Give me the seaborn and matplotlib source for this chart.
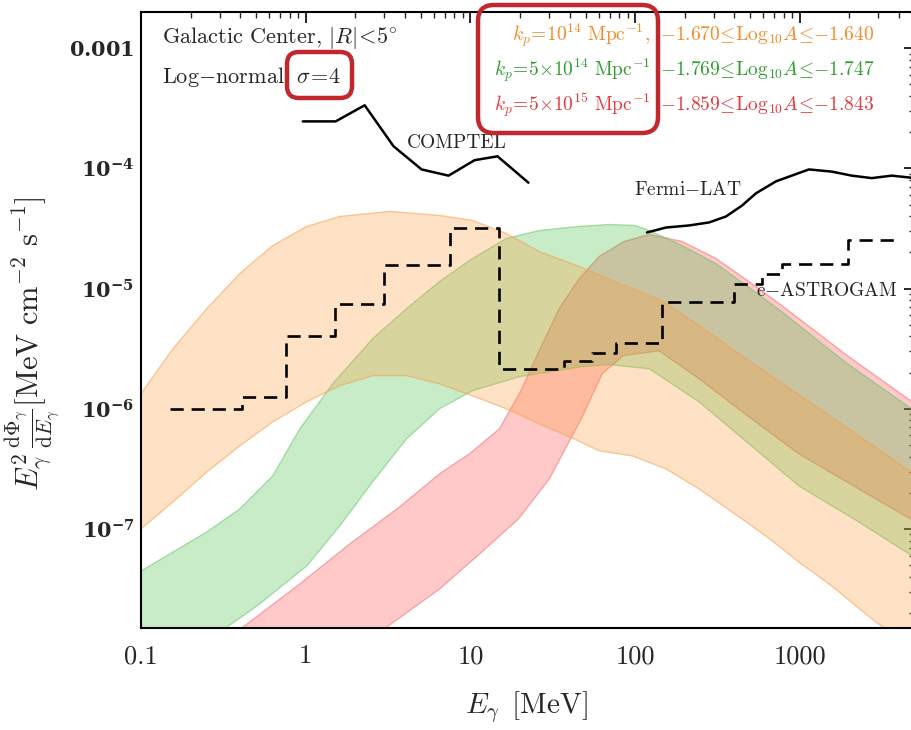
import numpy as np
import matplotlib
matplotlib.use("Agg")
import matplotlib.pyplot as plt
import seaborn as sns
from matplotlib.colors import to_rgba
from matplotlib.patches import FancyBboxPatch
from matplotlib.transforms import IdentityTransform

# ---------------- data (log10 values) ----------------
orange_up_logE = [-1.0, -0.806, -0.6, -0.4, -0.2, 0.006, 0.206, 0.509, 0.812, 1.012, 1.218, 1.418,
                  1.661, 1.903, 2.164, 2.388, 2.691, 2.994, 3.297, 3.70]
orange_up_logF = [-5.875, -5.5, -5.167, -4.875, -4.642, -4.483, -4.4, -4.358, -4.392, -4.433, -4.542, -4.692,
                  -4.817, -4.958, -5.1, -5.308, -5.6, -5.883, -6.167, -6.55]
orange_lo_logE = [-1.0, -0.806, -0.6, -0.4, -0.2, 0.006, 0.206, 0.406, 0.612, 0.812, 1.012, 1.218, 1.418,
                  1.630, 1.782, 1.982, 2.188, 2.388, 2.588, 2.794, 2.994, 3.194, 3.461, 3.70]
orange_lo_logF = [-7.0, -6.775, -6.525, -6.308, -6.108, -5.942, -5.808, -5.725, -5.725, -5.792, -5.892, -6.0, -6.125,
                  -6.25, -6.35, -6.392, -6.5, -6.667, -6.858, -7.058, -7.275, -7.475, -7.775, -8.0]

green_up_logE = [-1.0, -0.806, -0.6, -0.4, -0.2, -0.036, 0.164, 0.406, 0.612, 0.812, 1.012, 1.218, 1.418,
                 1.661, 1.842, 2.0, 2.085, 2.285, 2.491, 2.691, 2.891, 3.073, 3.297, 3.70]
green_up_logF = [-7.35, -7.192, -7.025, -6.833, -6.558, -6.167, -5.792, -5.417, -5.167, -4.942, -4.75, -4.583, -4.517,
                 -4.483, -4.467, -4.475, -4.517, -4.642, -4.792, -4.992, -5.192, -5.392, -5.633, -6.02]
green_lo_logE = [-1.0, -0.479, -0.297, 0.006, 0.206, 0.406, 0.612, 0.812, 1.012, 1.297, 1.673, 1.842,
                 2.085, 2.388, 2.691, 2.994, 3.358, 3.70]
green_lo_logF = [-8.333, -7.817, -7.642, -7.308, -6.975, -6.608, -6.25, -6.0, -5.85, -5.733, -5.65, -5.633,
                 -5.667, -5.942, -6.292, -6.642, -6.942, -7.24]

red_up_logE = [-1.0, -0.382, -0.036, 0.267, 0.570, 0.812, 0.994, 1.176, 1.297, 1.418, 1.539, 1.661, 1.782,
               1.933, 2.085, 2.285, 2.491, 2.691, 2.891, 3.073, 3.297, 3.70]
red_up_logF = [-8.467, -7.817, -7.458, -7.125, -6.817, -6.542, -6.375, -6.167, -5.875, -5.517, -5.167, -4.917, -4.733,
               -4.608, -4.55, -4.608, -4.75, -4.942, -5.142, -5.333, -5.567, -5.96]
red_lo_logE = [-0.036, 0.491, 0.812, 1.055, 1.291, 1.479, 1.673, 1.8, 1.927, 2.145, 2.388, 2.691, 2.994, 3.358, 3.70]
red_lo_logF = [-8.333, -7.817, -7.5, -7.208, -6.917, -6.583, -6.083, -5.708, -5.558, -5.517, -5.75, -6.067,
               -6.375, -6.667, -6.94]

comptel_E = [0.96, 1.52, 2.28, 3.41, 5.05, 7.36, 10.6, 14.6, 22.5]
comptel_F = [2.46e-4, 2.46e-4, 3.35e-4, 1.53e-4, 9.8e-5, 8.7e-5, 1.17e-4, 1.26e-4, 7.6e-5]

fermi_E = [118, 154, 212, 281, 356, 445, 541, 716, 1135, 1563, 2067, 2730, 3610, 5000]
fermi_F = [2.93e-5, 3.22e-5, 3.35e-5, 3.55e-5, 3.98e-5, 4.9e-5, 6.2e-5, 7.8e-5, 9.8e-5, 9.4e-5, 8.7e-5,
           8.3e-5, 8.7e-5, 8.3e-5]

astrogam_edges = [0.15, 0.41, 0.76, 1.5, 3.0, 7.5, 15, 37, 55, 77, 146, 400, 590, 780, 1950, 4100]
astrogam_levels = [1.0e-6, 1.26e-6, 4.0e-6, 7.4e-6, 1.58e-5, 3.2e-5, 2.15e-6, 2.5e-6, 2.93e-6, 3.5e-6,
                   7.8e-6, 1.1e-5, 1.31e-5, 1.61e-5, 2.56e-5]

legend_kp = [r"$k_p\!=\!10^{14}\ \mathrm{Mpc}^{-1},$",
             r"$k_p\!=\!5{\times}10^{14}\ \mathrm{Mpc}^{-1}$",
             r"$k_p\!=\!5{\times}10^{15}\ \mathrm{Mpc}^{-1}$"]
legend_range = [r"${-}1.670\!\leq\!\mathrm{Log}_{10}A\!\leq\!{-}1.640$",
                r"${-}1.769\!\leq\!\mathrm{Log}_{10}A\!\leq\!{-}1.747$",
                r"${-}1.859\!\leq\!\mathrm{Log}_{10}A\!\leq\!{-}1.843$"]
legend_colors = ["#F28C28", "#2E9E2E", "#E23A3F"]

x_ticks = [0.1, 1, 10, 100, 1000]
x_ticklabels = ["0.1", "1", "10", "100", "1000"]
y_ticks = [1e-7, 1e-6, 1e-5, 1e-4, 1e-3]
y_ticklabels = [r"$\mathbf{10^{-7}}$", r"$\mathbf{10^{-6}}$", r"$\mathbf{10^{-5}}$",
                r"$\mathbf{10^{-4}}$", r"$\mathbf{0.001}$"]

# ---------------- style ----------------
sns.set_style("white")
plt.rcParams.update({
    "font.family": ["cmr10", "DejaVu Serif"],
    "mathtext.fontset": "cm",
    "axes.unicode_minus": False,
    "axes.formatter.use_mathtext": True,
})

fig = plt.figure(figsize=(9.12, 7.3), dpi=100)
ax = fig.add_axes([141 / 912, 102 / 730, 774 / 912, 616 / 730])
ax.set_xscale("log")
ax.set_yscale("log")


def band(ue, uf, le, lf, face, edge, alpha, z):
    x = 10 ** np.concatenate([np.array(ue), np.array(le)[::-1]])
    y = 10 ** np.concatenate([np.array(uf), np.array(lf)[::-1]])
    ax.fill(x, y, facecolor=to_rgba(face, alpha), edgecolor=to_rgba(edge, 0.55), lw=1.0, zorder=z)


band(red_up_logE, red_up_logF, red_lo_logE, red_lo_logF, "#FF4D4D", "#F07070", 0.30, 1.0)
band(green_up_logE, green_up_logF, green_lo_logE, green_lo_logF, "#3CB83C", "#6CC86C", 0.28, 1.1)
band(orange_up_logE, orange_up_logF, orange_lo_logE, orange_lo_logF, "#FF9933", "#F5A050", 0.28, 1.2)

sns.lineplot(x=comptel_E, y=comptel_F, ax=ax, color="black", lw=1.8, sort=False, estimator=None, zorder=3)
sns.lineplot(x=fermi_E, y=fermi_F, ax=ax, color="black", lw=1.8, sort=False, estimator=None, zorder=3)
sns.lineplot(x=astrogam_edges, y=astrogam_levels + [astrogam_levels[-1]], ax=ax, color="black", lw=1.9,
             drawstyle="steps-post", ls=(0, (5, 3)), sort=False, estimator=None, zorder=3)

ax.set_xlim(0.1, 5000)
ax.set_ylim(1.5e-8, 2e-3)

ax.set_xticks(x_ticks)
ax.set_xticklabels(x_ticklabels)
ax.set_yticks(y_ticks)
ax.set_yticklabels(y_ticklabels)
for lbl in ax.get_yticklabels():
    lbl.set_math_fontfamily("dejavuserif")
ax.tick_params(which="both", direction="in", top=True, right=True)
ax.tick_params(which="major", length=8, width=1.4)
ax.tick_params(which="minor", length=4, width=1.0)
ax.tick_params(axis="x", which="major", labelsize=19, pad=12)
ax.tick_params(axis="y", which="major", labelsize=15, pad=5)
for s in ax.spines.values():
    s.set_linewidth(1.5)
    s.set_color("black")

ax.set_xlabel(r"$E_\gamma\ \,[\mathrm{MeV}]$", fontsize=21)
ax.xaxis.set_label_coords(0.498, -0.100)
ax.set_ylabel(r"$E_\gamma^2\,\frac{\mathrm{d}\Phi_\gamma}{\mathrm{d}E_\gamma}[\mathrm{MeV\ cm^{-2}\ s^{-1}}]$",
              fontsize=22)
ax.yaxis.set_label_coords(-0.102, 0.462)

# labels of experiments
ax.text(4.1, 1.62e-4, "COMPTEL", fontsize=14, va="center", ha="left", zorder=4)
ax.text(98, 6.56e-5, r"Fermi$-$LAT", fontsize=14, va="center", ha="left", zorder=4)
ax.text(541, 9.6e-6, r"e$-$ASTROGAM", fontsize=14, va="center", ha="left", zorder=4)

# top-left annotation
ax.text(0.027, 0.958, r"Galactic Center, $|R|\!<\!5^{\circ}$", transform=ax.transAxes, fontsize=16,
        va="center", ha="left")
ax.text(0.027, 0.894, r"Log$-$normal, $\sigma\!=\!4$", transform=ax.transAxes, fontsize=16,
        va="center", ha="left")

rows_y = [0.963, 0.906, 0.849]
for kp, rng, c, yy in zip(legend_kp, legend_range, legend_colors, rows_y):
    ax.text(0.658, yy, kp, transform=ax.transAxes, fontsize=14, color=c, ha="right", va="center")
    ax.text(0.671, yy, rng, transform=ax.transAxes, fontsize=14, color=c, ha="left", va="center")

# red rounded highlight boxes (pixel coordinates)
box_color = "#C0282D"
fig.add_artist(FancyBboxPatch((287, 730 - 98), 65, 46, boxstyle="round,pad=0,rounding_size=12",
                              transform=IdentityTransform(), fill=False, ec=box_color, lw=3.2))
fig.add_artist(FancyBboxPatch((478, 730 - 133), 180, 128, boxstyle="round,pad=0,rounding_size=16",
                              transform=IdentityTransform(), fill=False, ec=box_color, lw=3.2))

fig.savefig("out.png", dpi=100)
